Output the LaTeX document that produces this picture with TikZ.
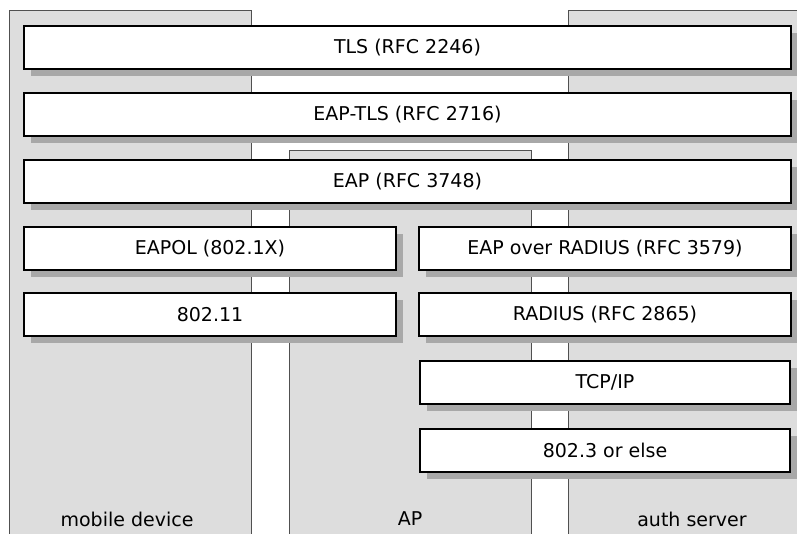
\documentclass[tikz,border=0pt]{standalone}
\usepackage{fontspec}
\setmainfont{DejaVu Sans}
\usetikzlibrary{shadows}
\definecolor{colbg}{HTML}{DDDDDD}
\definecolor{colline}{HTML}{505050}
\definecolor{shadowgray}{HTML}{A8A8A8}
\begin{document}
\begin{tikzpicture}[x=1pt,y=-1pt,
  layerbox/.style={draw=black, line width=1.5pt, fill=white, inner sep=0pt,
    minimum height=43pt, font=\fontsize{19}{22}\selectfont,
    drop shadow={shadow xshift=7pt, shadow yshift=-7pt, fill=shadowgray, opacity=1, draw=none}},
  column/.style={fill=colbg},
  colborder/.style={draw=colline, line width=1pt},
  collabel/.style={font=\fontsize{19}{22}\selectfont, inner sep=0pt}]
\useasboundingbox (0,0) rectangle (797,533);
\clip (0,0) rectangle (797,533);
% columns
\fill[column] (9,10) rectangle (251,545);
\draw[colborder] (9,545) -- (9,10) -- (251,10) -- (251,545);
\fill[column] (289,150) rectangle (531,545);
\draw[colborder] (289,545) -- (289,150) -- (531,150) -- (531,545);
\fill[column] (568,10) rectangle (810,545);
\draw[colborder] (568,545) -- (568,10) -- (810,10);
% column labels
\node[collabel] (lmobile) at (127,519) {mobile device};
\node[collabel] (lap) at (410,519) {AP};
\node[collabel] (lauth) at (692,519) {auth server};
% layers
\node[layerbox, minimum width=767pt] (tls) at (407.5,47.5) {TLS (RFC 2246)};
\node[layerbox, minimum width=767pt] (eaptls) at (407.5,114.5) {EAP-TLS (RFC 2716)};
\node[layerbox, minimum width=767pt] (eap) at (407.5,181.5) {EAP (RFC 3748)};
\node[layerbox, minimum width=372pt] (eapol) at (210,248.5) {EAPOL (802.1X)};
\node[layerbox, minimum width=372pt] (eapor) at (605,248.5) {EAP over RADIUS (RFC 3579)};
\node[layerbox, minimum width=372pt] (wifi) at (210,314.5) {802.11};
\node[layerbox, minimum width=372pt] (radius) at (605,314.5) {RADIUS (RFC 2865)};
\node[layerbox, minimum width=370pt] (tcpip) at (605,382.5) {TCP/IP};
\node[layerbox, minimum width=370pt] (eth) at (605,450.5) {802.3 or else};
\end{tikzpicture}
\end{document}
